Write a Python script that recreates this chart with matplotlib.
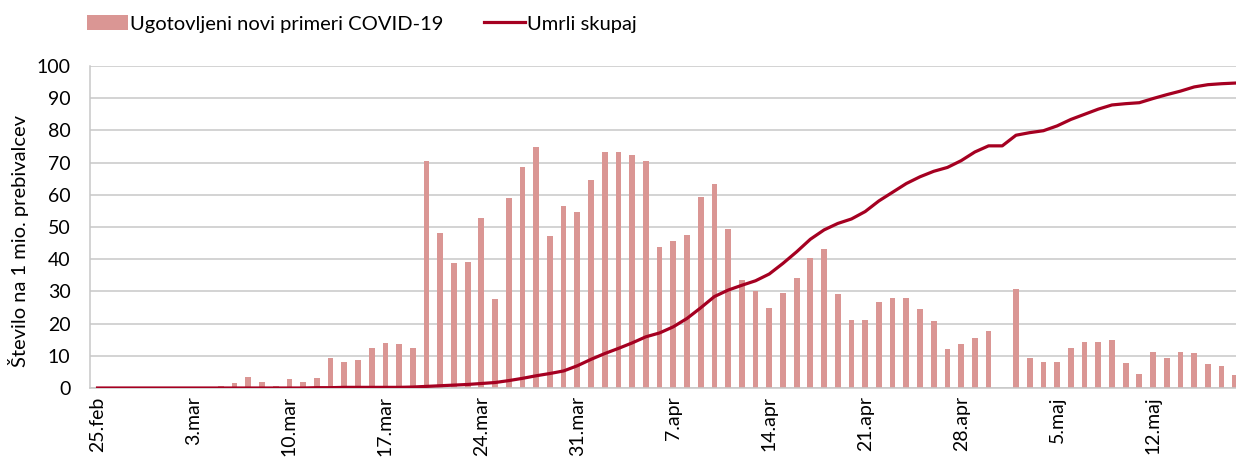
import numpy as np
import matplotlib
matplotlib.use("Agg")
from matplotlib import pyplot as plt

# new COVID-19 cases per 1 mio. inhabitants, daily from 25.feb
cases = [0, 0, 0, 0, 0, 0.3, 0, 0, 0.2, 0.7,
         1.5, 3.3, 1.9, 0.5, 2.8, 1.9, 3.2, 9.4, 8.2, 8.6,
         12.3, 14.0, 13.6, 12.3, 70.6, 48.0, 38.7, 39.2, 52.8, 27.6,
         58.9, 68.7, 74.8, 47.1, 56.5, 54.8, 64.7, 73.2, 73.4, 72.3,
         70.6, 43.7, 45.5, 47.5, 59.2, 63.5, 49.3, 33.5, 30.1, 24.8,
         29.5, 34.2, 40.3, 43.1, 29.2, 21.0, 21.2, 26.7, 28.1, 27.8,
         24.5, 20.7, 12.1, 13.6, 15.5, 17.6, 0, 30.7, 9.4, 8.1,
         8.1, 12.3, 14.2, 14.3, 14.8, 7.9, 4.2, 11.1, 9.4, 11.1,
         10.8, 7.3, 6.9, 4.0]

# cumulative deaths per 1 mio. inhabitants
deaths = [0, 0, 0, 0, 0, 0, 0, 0, 0, 0,
          0, 0, 0, 0, 0, 0, 0.1, 0.1, 0.2, 0.2,
          0.2, 0.2, 0.2, 0.3, 0.5, 0.7, 0.9, 1.1, 1.4, 1.7,
          2.3, 3.0, 3.8, 4.5, 5.3, 6.9, 8.9, 10.7, 12.3, 14.0,
          15.9, 17.1, 19.0, 21.6, 24.9, 28.4, 30.4, 31.9, 33.3, 35.4,
          38.7, 42.3, 46.2, 49.1, 51.1, 52.5, 54.8, 58.1, 60.8, 63.5,
          65.6, 67.3, 68.5, 70.6, 73.3, 75.2, 75.2, 78.5, 79.3, 79.9,
          81.4, 83.4, 85.0, 86.6, 87.9, 88.3, 88.6, 89.9, 91.1, 92.2,
          93.5, 94.2, 94.5, 94.7]

tick_labels = ["25.feb", "3.mar", "10.mar", "17.mar", "24.mar", "31.mar",
               "7.apr", "14.apr", "21.apr", "28.apr", "5.maj", "12.maj"]

plt.rcParams['font.family'] = ['Lato', 'DejaVu Sans']

days = np.arange(len(cases))

fig = plt.figure(figsize=(12.36, 4.58), dpi=100)
ax = fig.add_axes([90/1236, 1-388/458, 1-90/1236, (388-66)/458])

# bars and line
bars = ax.bar(days, cases, width=0.42, color="#DA9694", label="Ugotovljeni novi primeri COVID-19", zorder=2)
line, = ax.plot(days, deaths, color="#A50021", linewidth=2.3, label="Umrli skupaj", zorder=3)

# axes settings
ax.set_ylim(0, 100)
ax.set_xlim(-0.55, 83.05)
ax.set_yticks(range(0, 101, 10))
ax.set_xticks(range(0, 78, 7))
ax.set_xticklabels(tick_labels, rotation=90, va="top", ha="center")
ax.tick_params(axis="both", length=0, labelsize=14, colors="black")
ax.tick_params(axis="y", pad=14)
ax.tick_params(axis="x", pad=6)

ax.yaxis.grid(True, color="#C8C8C8", linewidth=1.1, zorder=0)
ax.set_axisbelow(True)
for s in ["top", "right"]:
    ax.spines[s].set_visible(False)
ax.spines["left"].set_color("#C8C8C8")
ax.spines["bottom"].set_color("#C8C8C8")
ax.spines["left"].set_linewidth(1.1)
ax.spines["bottom"].set_linewidth(1.1)

ax.set_ylabel("Število na 1 mio. prebivalcev", fontsize=14.5)
ax.yaxis.set_label_coords(-0.053, 0.455)

# legend at the top
fig.legend(handles=[bars, line], loc="center left", bbox_to_anchor=(87/1236, 1-24/458), ncol=2,
           frameon=False, fontsize=14.5, handlelength=2.05, handletextpad=0.1,
           columnspacing=2.0, borderpad=0, borderaxespad=0)

plt.savefig("out.png", dpi=100)
